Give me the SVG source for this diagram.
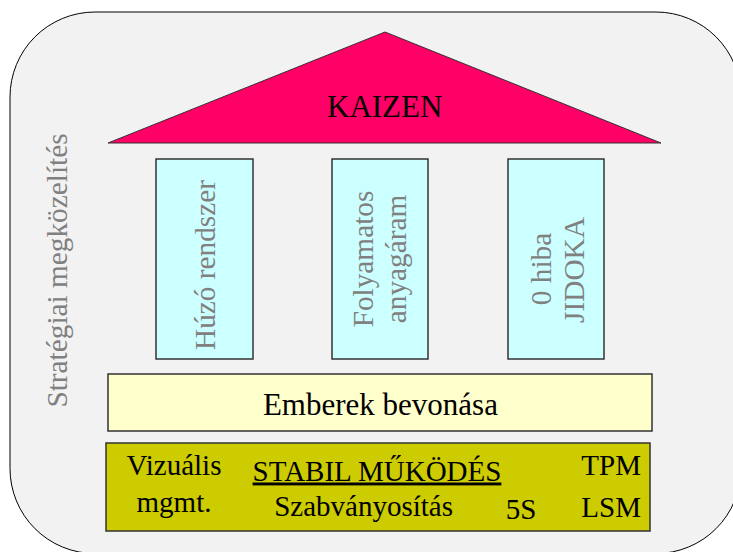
<svg xmlns="http://www.w3.org/2000/svg" width="733" height="552" viewBox="0 0 733 552">
<style>
.t{font-family:"Liberation Serif","Times New Roman",serif;}
.g{fill:#808080;font-size:29.3px;}
.k{fill:#000;font-size:29px;}
.pillar{fill:#CCFFFF;stroke:#333;stroke-width:1.5;}
</style>
<rect x="10" y="12" width="731" height="541.5" rx="85" ry="85" fill="#F2F2F2" stroke="#000" stroke-width="1"/>
<g id="strategy">
<text class="t g" transform="translate(67,270.5) rotate(-90)" text-anchor="middle">Stratégiai megközelítés</text>
</g>
<g id="kaizen">
<polygon points="385,32 108,143 661,143" fill="#FF0066" stroke="#333" stroke-width="1"/>
<text class="t" x="384.7" y="117.3" text-anchor="middle" font-size="31" fill="#000">KAIZEN</text>
</g>
<g id="pillar1">
<rect class="pillar" x="156" y="159" width="97" height="200"/>
<text class="t g" transform="translate(215,265) rotate(-90)" text-anchor="middle">Húzó rendszer</text>
</g>
<g id="pillar2">
<rect class="pillar" x="332" y="159" width="96" height="200"/>
<text class="t g" transform="translate(372.5,259) rotate(-90)" text-anchor="middle">Folyamatos</text>
<text class="t g" transform="translate(406,259) rotate(-90)" text-anchor="middle">anyagáram</text>
</g>
<g id="pillar3">
<rect class="pillar" x="508" y="159" width="96" height="200"/>
<text class="t g" transform="translate(550.7,269) rotate(-90)" text-anchor="middle">0 hiba</text>
<text class="t g" transform="translate(584,270) rotate(-90)" text-anchor="middle">JIDOKA</text>
</g>
<g id="emberek">
<rect x="108" y="374" width="544" height="57" fill="#FFFFCC" stroke="#333" stroke-width="1.5"/>
<text class="t" x="380.4" y="415" text-anchor="middle" font-size="31" fill="#000">Emberek bevonása</text>
</g>
<g id="stabil">
<rect x="106" y="443" width="544" height="88" fill="#CCCC00" stroke="#333" stroke-width="1.5"/>
<text class="t k" x="174" y="475.3" text-anchor="middle">Vizuális</text>
<text class="t k" x="174" y="512" text-anchor="middle">mgmt.</text>
<text class="t k" x="377" y="480.5" text-anchor="middle" text-decoration="underline">STABIL MŰKÖDÉS</text>
<text class="t k" x="363.6" y="516.3" text-anchor="middle">Szabványosítás</text>
<text class="t k" x="521" y="518.5" text-anchor="middle">5S</text>
<text class="t k" x="641" y="475.3" text-anchor="end">TPM</text>
<text class="t k" x="641" y="517" text-anchor="end">LSM</text>
</g>
<g id="connectors"/>
</svg>
